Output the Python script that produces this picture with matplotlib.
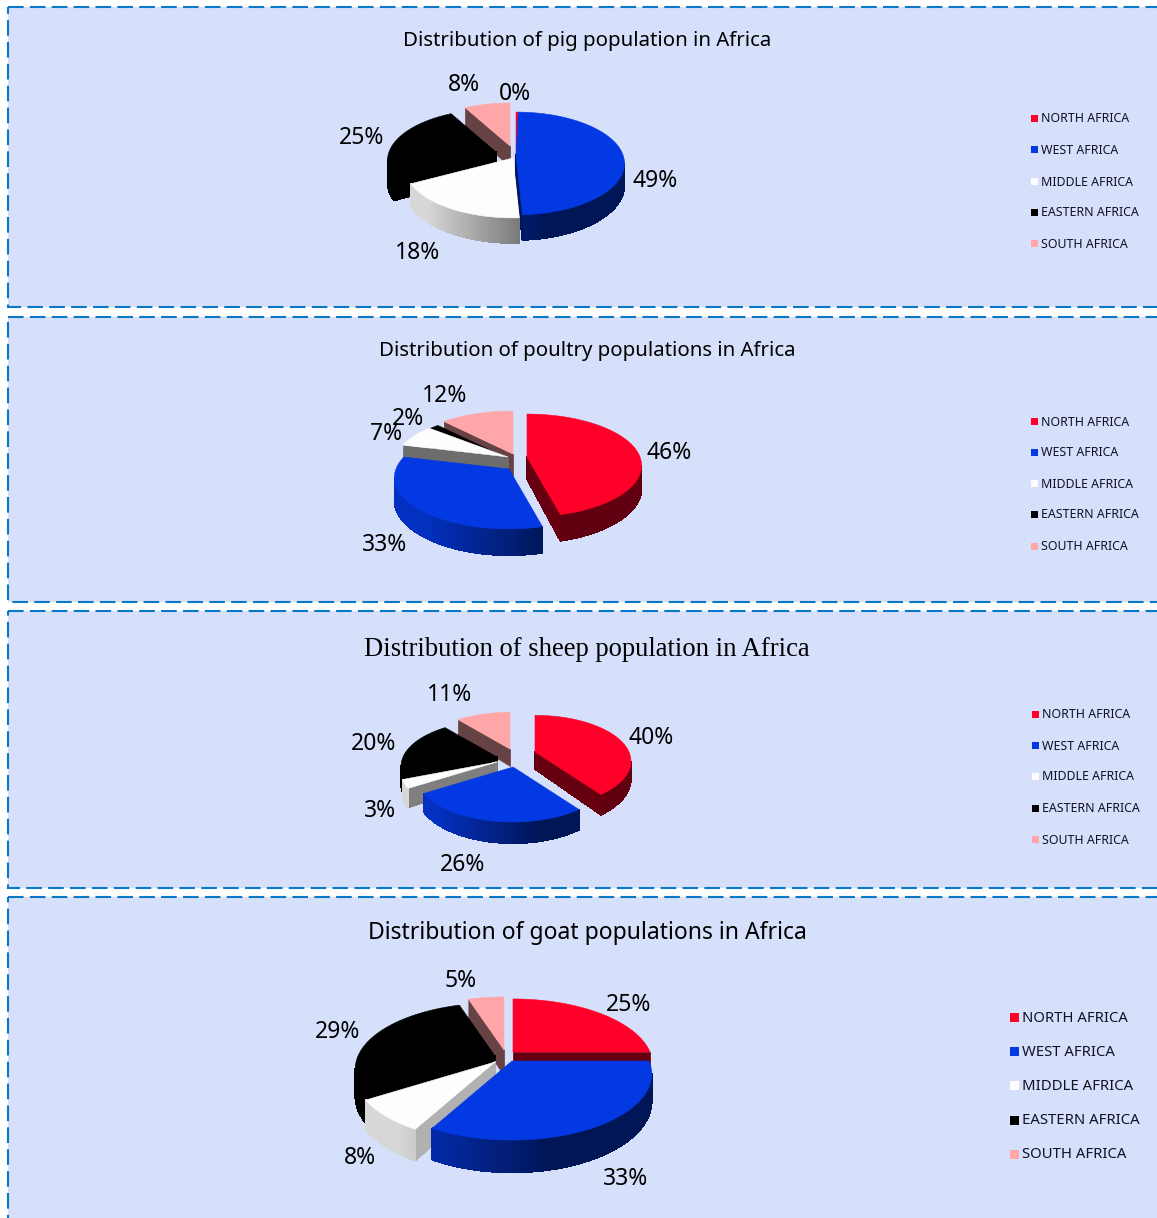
#!/usr/bin/env python3
"""
Livestock distribution in Africa, four perspective pies stacked in dashed panels
"""

import numpy as np
import matplotlib
matplotlib.use("Agg")
import matplotlib.pyplot as plt
from matplotlib.collections import PolyCollection
from matplotlib.patches import Rectangle

# === DATA ===
REGIONS = ["NORTH AFRICA", "WEST AFRICA", "MIDDLE AFRICA", "EASTERN AFRICA", "SOUTH AFRICA"]

PIG_VALUES = [0.4, 49, 18, 25, 8]
POULTRY_VALUES = [46, 33, 7, 2, 12]
SHEEP_VALUES = [40, 26, 3, 20, 11]
GOAT_VALUES = [25, 33, 8, 29, 5]

PIG_TITLE = "Distribution of pig population in Africa"
POULTRY_TITLE = "Distribution of poultry populations in Africa"
SHEEP_TITLE = "Distribution of sheep population in Africa"
GOAT_TITLE = "Distribution of goat populations in Africa"

# === STYLE ===
COLORS = ["#ff0029", "#0339e3", "#fdfdfd", "#000000", "#ffa6a9"]
PANEL_COLOR = "#d6e0fb"
BORDER_COLOR = "#0a78c8"
SANS = "Noto Sans"

# Layout is in image pixels. shift works like a pie explode, one (dx, dy) per slice.
PANELS = [
    dict(values=PIG_VALUES, title=PIG_TITLE, box=(7, 307), title_y=41,
         title_font=SANS, title_size=14.7,
         cx=516, cy=155, rx=107, ry=50, persp=0.165, depth=21,
         shift=[(0, 0), (0, 0), (-3, 3), (-20, -3), (-6, -9)], white_cut=0.45,
         label_xy=[(515, 94), (655, 181), (418, 253), (362, 138), (464, 85)],
         legend_x=1031, legend_y=[119, 150, 182, 213, 244], key=7, legend_size=8.9),
    dict(values=POULTRY_VALUES, title=POULTRY_TITLE, box=(317, 602), title_y=351,
         title_font=SANS, title_size=14.7,
         cx=517, cy=462, rx=113, ry=50, persp=0.165, depth=22,
         shift=[(10, -5), (-8, 7), (-9, -5), (-10, -4), (-4, -8)], white_cut=0.43,
         label_xy=[(669, 453), (385, 545), (386, 434), (408, 419), (445, 396)],
         legend_x=1031, legend_y=[422, 453, 484, 515, 547], key=7, legend_size=8.9),
    dict(values=SHEEP_VALUES, title=SHEEP_TITLE, box=(611, 888), title_y=650,
         title_font="Liberation Serif", title_size=19.2,
         cx=513, cy=756, rx=94, ry=44, persp=0.2, depth=17,
         shift=[(22, -4), (0, 11), (-16, 6), (-16, 1), (-3, -7)], white_cut=0.5,
         label_xy=[(651, 738), (463, 865), (380, 811), (374, 744), (450, 695)],
         legend_x=1032, legend_y=[715, 746, 777, 809, 840], key=7, legend_size=8.9),
    dict(values=GOAT_VALUES, title=GOAT_TITLE, box=(897, 1240), title_y=933,
         title_font=SANS, title_size=16.5,
         cx=513, cy=1056, rx=137, ry=63.5, persp=0.197, depth=26,
         shift=[(0, -4), (-1, 5), (-18, 6), (-18, 0), (-9, -6)], white_cut=0.7,
         label_xy=[(629, 1005), (626, 1179), (360, 1158), (338, 1032), (461, 981)],
         legend_x=1010, legend_y=[1018, 1052, 1086, 1121, 1155], key=9, legend_size=10.7),
]

CUT_SHADE = 0.4


def shade(color, factor):
    """Darken a hex colour by a factor"""
    rgb = np.array(matplotlib.colors.to_rgb(color))
    return tuple(rgb * factor)


def side_shade(x, panel):
    """Horizontal shading of the rim, bright on the left and dark on the right"""
    t = (x - (panel["cx"] - panel["rx"])) / (2 * panel["rx"])
    return float(np.clip(0.92 - 0.85 * t, 0.38, 0.85))


def project(theta, radius, panel, apex):
    """Map a disc point, theta clockwise from 12 o'clock, to image pixels"""
    disc_x = radius * np.sin(theta)
    disc_y = radius * np.cos(theta)
    w = 1 + panel["persp"] * disc_y
    x = apex[0] + panel["rx"] * disc_x / w
    y = apex[1] - panel["ry"] * disc_y / w
    return x, y, panel["depth"] / w


def draw_slice(ax, panel, color, start, end, shift, cut):
    """Draw one slice: the visible side faces first, then the top"""
    apex = (panel["cx"] + shift[0], panel["cy"] + shift[1])
    count = max(int(np.degrees(end - start)), 1) + 1
    theta = np.linspace(start, end, count)
    x, y, d = project(theta, 1.0, panel, apex)

    top = [(apex[0], apex[1])] + list(zip(x, y))
    drop = [panel["depth"]] + list(d)

    quads = []
    faces = []
    for i in range(len(top)):
        j = (i + 1) % len(top)
        quad = [top[i], top[j], (top[j][0], top[j][1] + drop[j]), (top[i][0], top[i][1] + drop[i])]
        xs = np.array([p[0] for p in quad])
        ys = np.array([p[1] for p in quad])
        area = np.sum(xs * np.roll(ys, -1) - np.roll(xs, -1) * ys)
        if area >= 0:
            continue
        is_cut = i == 0 or j == 0
        factor = cut if is_cut else side_shade(xs.mean(), panel)
        quads.append(quad)
        faces.append(shade(color, factor))

    if quads:
        # no antialiasing here, the blended quad edges show up as stripes
        ax.add_collection(PolyCollection(quads, facecolors=faces, edgecolors=faces,
                                         linewidths=0.5, antialiaseds=False))
    ax.add_patch(plt.Polygon(top, closed=True, facecolor=color, edgecolor=color, linewidth=0.4))


def draw_pie(ax, panel):
    """Draw all slices of a panel, back to front"""
    values = np.array(panel["values"], dtype=float)
    edges = np.concatenate([[0], np.cumsum(values) / values.sum() * 2 * np.pi])
    mids = (edges[:-1] + edges[1:]) / 2

    for i in np.argsort(-np.cos(mids)):
        cut = panel["white_cut"] if i == 2 else CUT_SHADE
        draw_slice(ax, panel, COLORS[i], edges[i], edges[i + 1], panel["shift"][i], cut)

    for value, (x, y) in zip(values, panel["label_xy"]):
        ax.text(x, y, f"{round(value)}%", ha="center", va="center",
                fontsize=16.5, family=SANS, color="black")


def draw_panel(ax, panel):
    """Panel background, title and legend"""
    top, bottom = panel["box"]
    ax.add_patch(Rectangle((8, top), 1180, bottom - top, facecolor=PANEL_COLOR,
                           edgecolor=BORDER_COLOR, linewidth=1.5,
                           linestyle=(0, (7.5, 3)), capstyle="butt"))
    ax.text(587, panel["title_y"], panel["title"], ha="center", va="center",
            fontsize=panel["title_size"], family=panel["title_font"], color="black")

    draw_pie(ax, panel)

    key = panel["key"]
    for name, color, y in zip(REGIONS, COLORS, panel["legend_y"]):
        ax.add_patch(Rectangle((panel["legend_x"], y - 1 - key / 2), key, key, facecolor=color, edgecolor="none"))
        ax.text(panel["legend_x"] + key + 3, y, name, ha="left", va="center",
                fontsize=panel["legend_size"], family=SANS, color="#111122")


def main():
    fig = plt.figure(figsize=(11.57, 12.18), dpi=100, facecolor="white")
    ax = fig.add_axes([0, 0, 1, 1])
    ax.set_xlim(0, 1157)
    ax.set_ylim(1218, 0)
    ax.axis("off")

    for panel in PANELS:
        draw_panel(ax, panel)

    fig.savefig("out.png", dpi=100)


if __name__ == "__main__":
    main()
